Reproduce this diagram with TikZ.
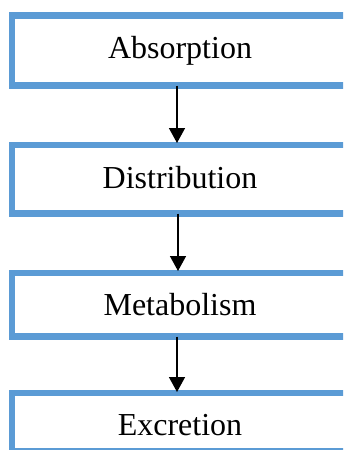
\documentclass[tikz,border=0pt]{standalone}
\usepackage{fontspec}
\setmainfont{Liberation Serif}
\usetikzlibrary{arrows.meta}
\definecolor{boxblue}{HTML}{5B9BD5}
\tikzset{
  stagebox/.style={draw=boxblue, line width=6.5pt, fill=white, minimum width=336pt, outer sep=0pt, inner sep=0pt, anchor=center},
  stagetext/.style={font=\fontsize{32}{38}\selectfont, anchor=base, inner sep=0pt},
  flow/.style={line width=1.5pt, -{Triangle[length=15pt,width=16pt]}}
}
\begin{document}
\begin{tikzpicture}[x=1pt,y=-1pt]
\useasboundingbox (0,0) rectangle (343,450);
\clip (0,0) rectangle (343,450);
\fill[white] (0,0) rectangle (343,450);
\node[stagebox, minimum height=70pt] (b1) at (180,50.5) {};
\node[stagebox, minimum height=68.5pt] (b2) at (180,179.25) {};
\node[stagebox, minimum height=63.5pt] (b3) at (180,304.75) {};
\node[stagebox, minimum height=58pt] (b4) at (180,422) {};
\node[stagetext] (t1) at (180,58) {Absorption};
\node[stagetext] (t2) at (180,188) {Distribution};
\node[stagetext] (t3) at (180,315) {Metabolism};
\node[stagetext] (t4) at (180,435) {Excretion};
\draw[flow] ([xshift=-3pt]b1.south) -- ([xshift=-3pt,yshift=2pt]b2.north);
\draw[flow] ([xshift=-2pt]b2.south) -- ([xshift=-2pt,yshift=2pt]b3.north);
\draw[flow] ([xshift=-3pt]b3.south) -- ([xshift=-3pt,yshift=1pt]b4.north);
\end{tikzpicture}
\end{document}
